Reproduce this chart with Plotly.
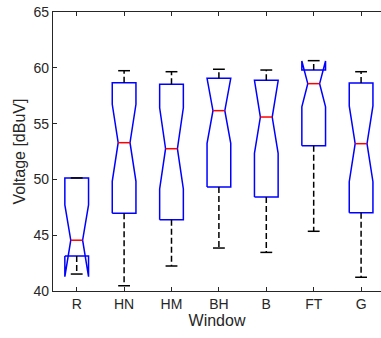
import plotly.graph_objects as go

# Notched box summaries of measured voltage per window position
windows = ["R", "HN", "HM", "BH", "B", "FT", "G"]
whisker_low = [41.52, 40.47, 42.24, 43.85, 43.46, 45.35, 41.23]
q1 = [43.14, 46.96, 46.39, 49.32, 48.42, 53.02, 47.02]
notch_low = [41.28, 49.83, 49.14, 53.23, 52.34, 56.51, 49.79]
median = [44.55, 53.29, 52.75, 56.16, 55.59, 58.58, 53.20]
notch_high = [47.71, 56.73, 56.42, 59.06, 58.84, 60.61, 56.58]
q3 = [50.13, 58.66, 58.52, 59.06, 58.88, 59.80, 58.64]
whisker_high = [50.13, 59.74, 59.65, 59.87, 59.80, 60.64, 59.65]

BOX_HALF = 0.25
NOTCH_HALF = 0.125
CAP_HALF = 0.125
BLUE = "#0000ff"
RED = "#ff0000"
INK = "#262626"

fig = go.Figure()

for i, name in enumerate(windows):
    c = i + 1
    # box outline with notch around the median
    xs = [c - BOX_HALF, c - BOX_HALF, c - NOTCH_HALF, c - BOX_HALF, c - BOX_HALF,
          c + BOX_HALF, c + BOX_HALF, c + NOTCH_HALF, c + BOX_HALF, c + BOX_HALF,
          c - BOX_HALF]
    ys = [q1[i], notch_low[i], median[i], notch_high[i], q3[i],
          q3[i], notch_high[i], median[i], notch_low[i], q1[i], q1[i]]
    fig.add_trace(go.Scatter(x=xs, y=ys, mode="lines",
                             line=dict(color=BLUE, width=1.5),
                             hoverinfo="skip", showlegend=False))
    # median bar
    fig.add_trace(go.Scatter(x=[c - NOTCH_HALF, c + NOTCH_HALF],
                             y=[median[i], median[i]], mode="lines",
                             line=dict(color=RED, width=1.5),
                             hoverinfo="skip", showlegend=False))
    # dashed whiskers
    for a, b in ((q3[i], whisker_high[i]), (q1[i], whisker_low[i])):
        if abs(a - b) > 1e-9:
            fig.add_trace(go.Scatter(x=[c, c], y=[a, b], mode="lines",
                                     line=dict(color="black", width=1.5,
                                               dash="6px,3px"),
                                     hoverinfo="skip", showlegend=False))
    # whisker caps
    for v in (whisker_high[i], whisker_low[i]):
        fig.add_trace(go.Scatter(x=[c - CAP_HALF, c + CAP_HALF], y=[v, v],
                                 mode="lines",
                                 line=dict(color="black", width=1.5),
                                 hoverinfo="skip", showlegend=False))

font_family = "Liberation Sans, Arial, Helvetica, sans-serif"

fig.update_layout(
    width=381, height=338,
    margin=dict(l=53, r=0, t=12, b=47),
    paper_bgcolor="white", plot_bgcolor="white",
    font=dict(family=font_family, color=INK, size=14),
    xaxis=dict(
        range=[0.5, 7.42],
        tickmode="array",
        tickvals=list(range(1, len(windows) + 1)),
        ticktext=windows,
        showgrid=False, zeroline=False,
        showline=True, linecolor=INK, linewidth=1.2,
        mirror="ticks", ticks="inside", ticklen=4, tickcolor=INK,
        tickfont=dict(size=14, color=INK),
        title=dict(text="Window", font=dict(size=16, color=INK), standoff=0),
        automargin=False,
    ),
    yaxis=dict(
        range=[40, 65],
        tickvals=[40, 45, 50, 55, 60, 65],
        showgrid=False, zeroline=False,
        showline=True, linecolor=INK, linewidth=1.2,
        ticks="inside", ticklen=4, tickcolor=INK,
        tickfont=dict(size=14, color=INK),
        title=dict(text="Voltage [dBuV]", font=dict(size=16, color=INK), standoff=3),
        automargin=False,
    ),
)

fig.write_html("out.html")
